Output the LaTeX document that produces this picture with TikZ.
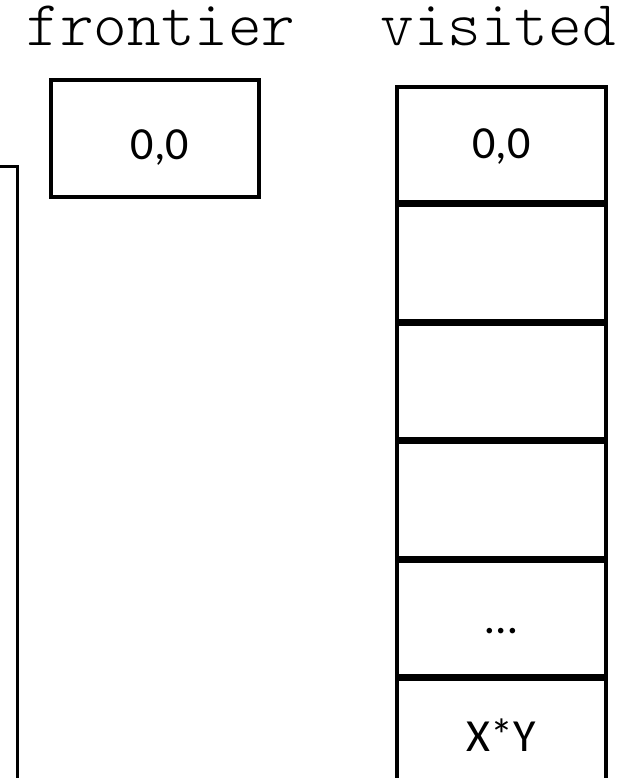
\documentclass[tikz,border=0pt]{standalone}
\usepackage{fontspec}
\setmainfont{Carlito}
\newfontfamily\monofont{Latin Modern Mono Light}
\begin{document}
\begin{tikzpicture}[x=1pt,y=-1pt,
  cellbox/.style={draw=black,line width=3.5pt,minimum width=209pt,minimum height=115pt,inner sep=0pt,
    font=\fontsize{46}{50}\selectfont,text height=29pt,text depth=0pt},
  frontbox/.style={draw=black,line width=3.5pt,minimum width=208pt,minimum height=117pt,inner sep=0pt},
  celltext/.style={inner sep=0pt,font=\fontsize{46}{50}\selectfont,text height=29pt,text depth=0pt},
  title/.style={inner sep=0pt,font=\monofont\fontsize{64}{68}\selectfont,anchor=base,text height=36pt,text depth=0pt}]
\useasboundingbox (0,0) rectangle (620,778);
% titles
\node[title] (tfront) at (161,46) {frontier};
\node[title] (tvis) at (498,46) {visited};
% frontier box
\node[frontbox] (front) at (155,138.5) {};
\node[celltext] (ftext) at (160,145) {0,0};
% visited stack
\node[cellbox] (v0) at (501.5,144.5) {0,0};
\node[cellbox,anchor=north] (v1) at (v0.south) {};
\node[cellbox,anchor=north] (v2) at (v1.south) {};
\node[cellbox,anchor=north] (v3) at (v2.south) {};
\node[cellbox,anchor=north] (v4) at (v3.south) {…};
\node[cellbox,anchor=north] (v5) at (v4.south) {X*Y};
% partial box at left edge
\coordinate (pa) at (0,167);
\coordinate (pb) at (17,167);
\coordinate (pc) at (17,780);
\draw[line width=3pt,line join=miter] (pa) -- (pb) -- (pc);
\end{tikzpicture}
\end{document}
